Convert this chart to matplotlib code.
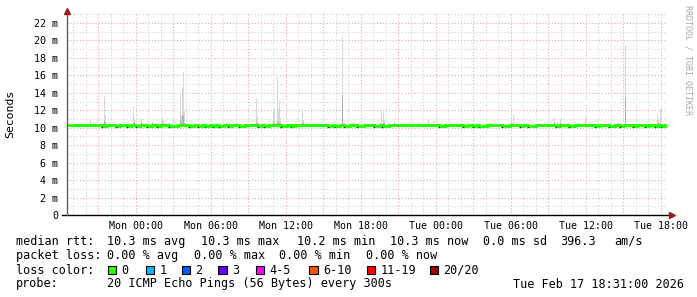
import numpy as np
import matplotlib.pyplot as plt
from matplotlib.patches import Rectangle

plt.rcParams['font.family'] = 'DejaVu Sans Mono'

# hours relative to Mon 00:00, 48 h window ending Tue 18:31
t_start = -5.483
t_end = 42.517
step = 5 / 60.0

# median rtt (ms): mostly 10.3, short drops to 10.2
median_base = 10.3
median_dip = 10.2
dip_start = [-2.65, -1.6, -0.7, 0.0, 0.93, 1.7, 2.68, 4.3, 4.98, 5.58, 6.18, 6.7,
             7.38, 8.29, 9.78, 10.3, 11.65, 12.43, 15.38, 15.97, 16.68, 17.75,
             19.09, 19.75, 24.25, 26.23, 26.98, 27.5, 29.35, 30.73, 31.37, 33.63,
             34.65, 36.73, 37.85, 38.73, 39.78, 40.73, 41.53, 42.03]
dip_len = [0.35, 0.35, 0.35, 0.35, 0.35, 0.35, 0.72, 0.35, 0.35, 0.35, 0.35, 0.35,
           0.35, 0.5, 0.35, 0.35, 0.5, 0.35, 0.35, 0.35, 0.45, 0.5,
           0.5, 0.5, 0.5, 0.35, 0.35, 0.6, 0.5, 0.35, 0.67, 0.35,
           0.5, 0.35, 0.5, 0.35, 0.35, 0.35, 0.35, 0.35]

# smoke spikes: time (h), highest ping (ms), top of darker band (ms)
spike_hour = [-3.6, -2.48, -2.4, -0.16, -0.08, 0.48, 1.36, 2.16, 2.24, 3.6, 3.68,
              3.76, 3.84, 3.92, 9.68, 9.76, 11.07, 11.15, 11.36, 11.44, 11.52,
              11.6, 13.36, 13.44, 16.56, 19.68, 19.84, 19.92, 20.75, 23.42, 30.08,
              30.24, 33.52, 34.0, 36.03, 39.2, 41.76, 41.84, 42.0]
spike_top = [11.0, 13.6, 11.5, 12.4, 11.1, 11.0, 10.7, 11.1, 10.9, 13.9, 11.5,
             14.5, 16.4, 11.9, 13.3, 11.4, 12.3, 12.3, 15.7, 12.1, 13.1,
             11.1, 12.1, 10.9, 20.4, 11.95, 11.7, 10.9, 10.8, 10.9, 11.0,
             11.5, 11.2, 11.0, 11.0, 19.5, 11.6, 10.9, 12.1]
spike_dark = [10.5, 10.8, 10.5, 10.6, 10.5, 10.5, 10.5, 10.5, 10.5, 11.0, 10.5,
              11.2, 11.5, 10.5, 10.6, 10.5, 10.5, 10.5, 10.8, 10.5, 10.6,
              10.5, 10.5, 10.5, 13.75, 10.5, 10.5, 10.5, 10.5, 10.5, 10.5,
              10.5, 10.5, 10.5, 10.5, 13.4, 10.5, 10.5, 10.5]

tick_hours = [0, 6, 12, 18, 24, 30, 36, 42]
tick_labels = ['Mon 00:00', 'Mon 06:00', 'Mon 12:00', 'Mon 18:00',
               'Tue 00:00', 'Tue 06:00', 'Tue 12:00', 'Tue 18:00']

loss_labels = ['0', '1', '2', '3', '4-5', '6-10', '11-19', '20/20']
loss_colors = ['#26ff00', '#00b8ff', '#0059ff', '#5e00ff', '#ff00ff', '#ff5500', '#ff0000', '#a10000']

W, H = 697, 297
fig = plt.figure(figsize=(W / 100, H / 100), dpi=100)
ymax = 23.15
ax = fig.add_axes([67 / W, 82 / H, 600 / W, 202 / H])
ax.set_xlim(t_start, t_end)
ax.set_ylim(0, ymax)
for s in ax.spines.values():
    s.set_visible(False)

# grid
minor_c = '#cfcfcf'
major_c = '#e6a3a3'
dots = (0, (1, 2))
for h in range(-5, 43):
    c = major_c if h % 3 == 0 else minor_c
    ax.axvline(h, color=c, lw=0.75, ls=dots, zorder=0)
for v in range(1, 24):
    c = major_c if v % 2 == 0 else minor_c
    ax.axhline(v, color=c, lw=0.75, ls=dots, zorder=0)

# smoke
base = 10.15
ax.bar(spike_hour, np.array(spike_top) - base, bottom=base, width=step,
       color='#d6d6d6', linewidth=0, zorder=1)
ax.bar(spike_hour, np.array(spike_dark) - base, bottom=base, width=step,
       color='#b0b0b0', linewidth=0, zorder=1)

# median line as steps
xs = [t_start]
ys = [median_base]
for s, l in zip(dip_start, dip_len):
    xs += [s, s, s + l, s + l]
    ys += [median_base, median_dip, median_dip, median_base]
xs.append(t_end)
ys.append(median_base)
ax.plot(xs, ys, color='#26ff00', lw=2.2, solid_joinstyle='miter', zorder=3)
ax.plot(dip_start, [10.1] * len(dip_start), ls='none', marker='s', ms=0.9,
        mew=0, color='#202020', zorder=4)

# axes with arrows
ax.plot([t_start - 0.4, t_end + 0.1], [0, 0], color='black', lw=1, clip_on=False, zorder=5)
ax.plot([t_start, t_start], [0, ymax], color='#606060', lw=1, clip_on=False, zorder=5)
ax.plot([t_end + 0.42], [0], marker='>', ms=4.5, color='#9b1b1b', clip_on=False, zorder=6)
ax.plot([t_start], [ymax + 0.28], marker='^', ms=4.5, color='#9b1b1b', clip_on=False, zorder=6)

ax.set_xticks(tick_hours)
ax.set_xticklabels(tick_labels)
yt = list(range(0, 23, 2))
ax.set_yticks(yt)
ax.set_yticklabels(['0'] + ['%d m' % v for v in yt[1:]])
ax.tick_params(axis='both', length=0, labelsize=7.2, colors='black')
ax.tick_params(axis='x', pad=4)
ax.tick_params(axis='y', pad=6.5)

fs = 8.45


def ftext(x, y, s, **kw):
    fig.text(x / W, 1 - y / H, s, fontsize=kw.pop('fontsize', fs), va='center', **kw)


ftext(10, 114, 'Seconds', rotation=90, ha='center', fontsize=8.25)
ftext(688, 60, 'RRDTOOL / TOBI OETIKER', rotation=270, ha='center', fontsize=6,
      color='#aaaaaa')

row_y = [241.5, 255.8, 270, 284]

row1 = ['median rtt:', '10.3 ms avg', '10.3 ms max', '10.2 ms min', '10.3 ms now',
        '0.0 ms sd', '396.3', 'am/s']
row1_x = [16, 107, 201, 297, 390, 483, 560, 614]
for s, x in zip(row1, row1_x):
    ftext(x, row_y[0], s)
row2 = ['packet loss:', '0.00 % avg', '0.00 % max', '0.00 % min', '0.00 % now']
row2_x = [16, 107, 194, 279.3, 366]
for s, x in zip(row2, row2_x):
    ftext(x, row_y[1], s)

ftext(16, row_y[2], 'loss color:')
box_x = [107.7, 145.7, 181.7, 218.3, 256, 309.3, 366.7, 429.5]
for lab, col, bx in zip(loss_labels, loss_colors, box_x):
    fig.patches.append(Rectangle((bx / W, 1 - (row_y[2] + 4.3) / H), 8.3 / W, 8.3 / H,
                                 transform=fig.transFigure, facecolor=col,
                                 edgecolor='black', lw=0.8))
    ftext(bx + 13.5, row_y[2], lab)

ftext(16, row_y[3], 'probe:')
ftext(107, row_y[3], '20 ICMP Echo Pings (56 Bytes) every 300s')
ftext(513, row_y[3], 'Tue Feb 17 18:31:00 2026')

fig.savefig('out.png', dpi=100)
